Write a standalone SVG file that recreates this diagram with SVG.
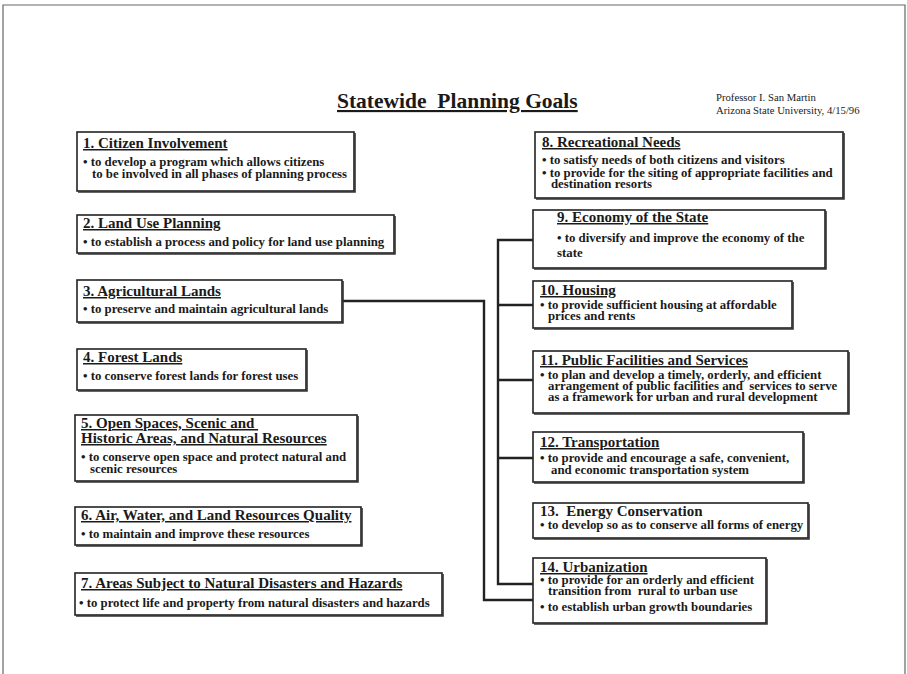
<svg xmlns="http://www.w3.org/2000/svg" width="907" height="674" viewBox="0 0 907 674">
<style>
text{font-family:"Liberation Serif","Times New Roman",serif;fill:#1a1a1a}
.h{font-size:15px;font-weight:bold;text-decoration:underline}
.hn{font-size:15px;font-weight:bold}
.b{font-size:12.8px;font-weight:bold}
.box{fill:#fff;stroke:#222;stroke-width:1.6}
.sh{fill:none;stroke:#333;stroke-width:1.6}
.con{fill:none;stroke:#222;stroke-width:2.4}
.page{fill:none;stroke:#666;stroke-width:1.2}
</style>
<rect width="907" height="674" fill="#fff"/>
<path class="page" d="M3,676 V5 H905 V676"/>
<g id="title">
<text x="337" y="108" style="font-size:21.5px;font-weight:bold;text-decoration:underline" xml:space="preserve">Statewide  Planning Goals</text>
<text x="716" y="101" style="font-size:10.7px">Professor I. San Martin</text>
<text x="716" y="114" style="font-size:10.7px">Arizona State University, 4/15/96</text>
</g>
<g id="connectors">
<path class="con" d="M342,301 H484 V600 H533"/>
<path class="con" d="M533,240 H498 V584 H533"/>
<path class="con" d="M498,305 H533 M498,380 H533 M498,458 H533"/>
</g>
<g id="n1">
<rect class="box" x="77" y="132" width="277" height="59"/>
<path class="sh" d="M355,133 V192 H78"/>
<text class="h" x="83" y="148">1. Citizen Involvement</text>
<text class="b" x="83" y="166">• to develop a program which allows citizens</text>
<text class="b" x="92" y="178">to be involved in all phases of planning process</text>
</g>
<g id="n2">
<rect class="box" x="77" y="215" width="317" height="38"/>
<path class="sh" d="M395,216 V254 H78"/>
<text class="h" x="83" y="228">2. Land Use Planning</text>
<text class="b" x="83" y="246">• to establish a process and policy for land use planning</text>
</g>
<g id="n3">
<rect class="box" x="77" y="280" width="265" height="42"/>
<path class="sh" d="M343,281 V323 H78"/>
<text class="h" x="83" y="296">3. Agricultural Lands</text>
<text class="b" x="83" y="313">• to preserve and maintain agricultural lands</text>
</g>
<g id="n4">
<rect class="box" x="77" y="349" width="229" height="41"/>
<path class="sh" d="M307,350 V391 H78"/>
<text class="h" x="83" y="362">4. Forest Lands</text>
<text class="b" x="83" y="380">• to conserve forest lands for forest uses</text>
</g>
<g id="n5">
<rect class="box" x="75" y="415" width="282" height="66"/>
<path class="sh" d="M358,416 V482 H76"/>
<text class="h" x="81" y="428" xml:space="preserve">5. Open Spaces, Scenic and </text>
<text class="h" x="81" y="443">Historic Areas, and Natural Resources</text>
<text class="b" x="81" y="461">• to conserve open space and protect natural and</text>
<text class="b" x="90" y="473">scenic resources</text>
</g>
<g id="n6">
<rect class="box" x="75" y="507" width="286" height="38"/>
<path class="sh" d="M362,508 V546 H76"/>
<text class="h" x="81" y="520">6. Air, Water, and Land Resources Quality</text>
<text class="b" x="81" y="538">• to maintain and improve these resources</text>
</g>
<g id="n7">
<rect class="box" x="75" y="573" width="367" height="42"/>
<path class="sh" d="M443,574 V616 H76"/>
<text class="h" x="81" y="588">7. Areas Subject to Natural Disasters and Hazards</text>
<text class="b" x="79" y="607">• to protect life and property from natural disasters and hazards</text>
</g>
<g id="n8">
<rect class="box" x="535" y="132" width="308" height="66"/>
<path class="sh" d="M844,133 V199 H536"/>
<text class="h" x="542" y="147">8. Recreational Needs</text>
<text class="b" x="542" y="164">• to satisfy needs of both citizens and visitors</text>
<text class="b" x="542" y="177">• to provide for the siting of appropriate facilities and</text>
<text class="b" x="551" y="188">destination resorts</text>
</g>
<g id="n9">
<rect class="box" x="533" y="210" width="292" height="58"/>
<path class="sh" d="M826,211 V269 H534"/>
<text class="h" x="557" y="222">9. Economy of the State</text>
<text class="b" x="557" y="242">• to diversify and improve the economy of the</text>
<text class="b" x="557" y="257">state</text>
</g>
<g id="n10">
<rect class="box" x="533" y="281" width="259" height="47"/>
<path class="sh" d="M793,282 V329 H534"/>
<text class="h" x="540" y="295">10. Housing</text>
<text class="b" x="540" y="309">• to provide sufficient housing at affordable</text>
<text class="b" x="548" y="320">prices and rents</text>
</g>
<g id="n11">
<rect class="box" x="533" y="351" width="315" height="62"/>
<path class="sh" d="M849,352 V414 H534"/>
<text class="h" x="540" y="365">11. Public Facilities and Services</text>
<text class="b" x="540" y="379">• to plan and develop a timely, orderly, and efficient</text>
<text class="b" x="548" y="390" xml:space="preserve">arrangement of public facilities and  services to serve</text>
<text class="b" x="548" y="401">as a framework for urban and rural development</text>
</g>
<g id="n12">
<rect class="box" x="533" y="432" width="270" height="50"/>
<path class="sh" d="M804,433 V483 H534"/>
<text class="h" x="540" y="447">12. Transportation</text>
<text class="b" x="540" y="462">• to provide and encourage a safe, convenient,</text>
<text class="b" x="551" y="474">and economic transportation system</text>
</g>
<g id="n13">
<rect class="box" x="533" y="503" width="275" height="35"/>
<path class="sh" d="M809,504 V539 H534"/>
<text class="hn" x="540" y="516" xml:space="preserve">13.  Energy Conservation</text>
<text class="b" x="540" y="529">• to develop so as to conserve all forms of energy</text>
</g>
<g id="n14">
<rect class="box" x="533" y="558" width="233" height="65"/>
<path class="sh" d="M767,559 V624 H534"/>
<text class="h" x="540" y="572">14. Urbanization</text>
<text class="b" x="540" y="584">• to provide for an orderly and efficient</text>
<text class="b" x="548" y="595" xml:space="preserve">transition from  rural to urban use</text>
<text class="b" x="540" y="611">• to establish urban growth boundaries</text>
</g>
</svg>
